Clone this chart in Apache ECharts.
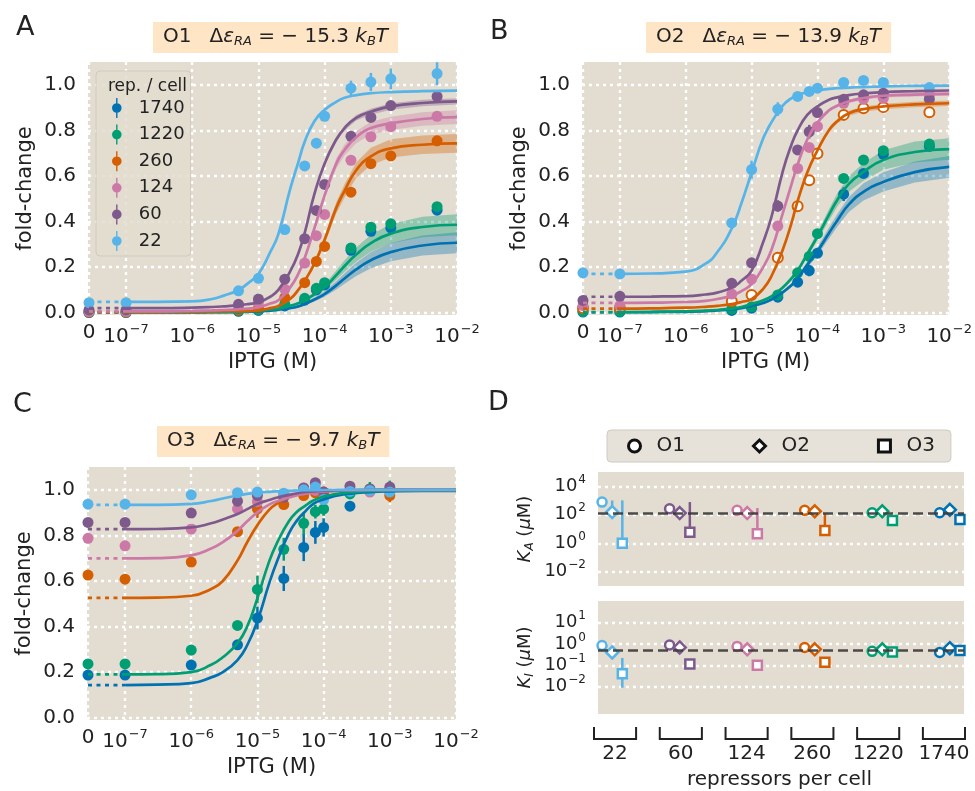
<!DOCTYPE html>
<html>
<head>
<meta charset="utf-8">
<script src="https://cdn.jsdelivr.net/npm/echarts@6/dist/echarts.min.js"></script>
<style>
  html, body { margin: 0; background: #fff; }
  #chart { width: 975px; height: 791px; }
</style>
</head>
<body>
<div id="chart"></div>
<script>
const FONT = 'DejaVu Sans';
const INK = '#222222';
const BG = '#E3DCD0';
const PEACH = '#FDE5C6';
const ZERO = -7.56; // where IPTG = 0 sits on the log axis

const reps = ['1740', '1220', '260', '124', '60', '22'];
const colors = { '1740': '#0072B2', '1220': '#009E73', '260': '#D55E00', '124': '#CC79A7', '60': '#7E598C', '22': '#56B4E9' };

// IPTG concentrations (uM)
const iptgAB = [0, 0.1, 5, 10, 25, 50, 75, 100, 250, 500, 1000, 5000];
const iptgC = [0, 0.1, 1, 5, 10, 25, 50, 75, 100, 250, 500, 1000];
const curveX = [0.1, 0.3, 1, 2, 3, 5, 7, 10, 15, 20, 30, 40, 50, 70, 100, 150, 200, 300, 500, 1000, 3000, 10000];

// panel A, O1
const foldA = {
  '1740': [0.001, 0.001, 0.006, 0.01, 0.03, 0.055, 0.1, 0.122, 0.274, 0.357, 0.372, 0.45],
  '1220': [0.002, 0.002, 0.008, 0.012, 0.038, 0.063, 0.107, 0.132, 0.284, 0.375, 0.39, 0.465],
  '260': [0.003, 0.003, 0.012, 0.02, 0.066, 0.132, 0.225, 0.291, 0.529, 0.654, 0.688, 0.754],
  '124': [0.005, 0.005, 0.026, 0.045, 0.103, 0.218, 0.338, 0.431, 0.669, 0.772, 0.816, 0.862],
  '60': [0.012, 0.012, 0.037, 0.06, 0.147, 0.325, 0.449, 0.563, 0.774, 0.857, 0.909, 0.949],
  '22': [0.044, 0.044, 0.096, 0.151, 0.365, 0.644, 0.744, 0.862, 0.985, 1.012, 1.026, 1.049]
};
const errA = {
  '1740': [0.002, 0.002, 0.004, 0.005, 0.008, 0.01, 0.012, 0.012, 0.015, 0.018, 0.02, 0.02],
  '1220': [0.002, 0.002, 0.004, 0.005, 0.008, 0.01, 0.012, 0.012, 0.015, 0.018, 0.02, 0.02],
  '260': [0.003, 0.003, 0.005, 0.006, 0.01, 0.012, 0.014, 0.014, 0.016, 0.018, 0.02, 0.02],
  '124': [0.003, 0.003, 0.005, 0.006, 0.01, 0.012, 0.014, 0.014, 0.016, 0.018, 0.02, 0.02],
  '60': [0.004, 0.004, 0.006, 0.008, 0.01, 0.012, 0.014, 0.014, 0.016, 0.018, 0.02, 0.022],
  '22': [0.006, 0.006, 0.01, 0.012, 0.014, 0.015, 0.015, 0.015, 0.033, 0.04, 0.045, 0.05]
};
const curveA = {
  '1740': [0.001, 0.001, 0.001, 0.002, 0.002, 0.003, 0.004, 0.006, 0.009, 0.013, 0.02, 0.028, 0.038, 0.058, 0.082, 0.12, 0.15, 0.19, 0.23, 0.266, 0.295, 0.307],
  '1220': [0.002, 0.002, 0.002, 0.003, 0.003, 0.004, 0.005, 0.008, 0.013, 0.018, 0.03, 0.042, 0.055, 0.08, 0.112, 0.165, 0.205, 0.255, 0.305, 0.347, 0.376, 0.386],
  '260': [0.003, 0.003, 0.004, 0.005, 0.006, 0.007, 0.008, 0.01, 0.02, 0.03, 0.06, 0.1, 0.14, 0.215, 0.32, 0.46, 0.535, 0.625, 0.686, 0.721, 0.737, 0.743],
  '124': [0.006, 0.006, 0.008, 0.01, 0.012, 0.015, 0.018, 0.023, 0.04, 0.055, 0.11, 0.17, 0.24, 0.37, 0.515, 0.655, 0.714, 0.77, 0.81, 0.831, 0.85, 0.858],
  '60': [0.02, 0.02, 0.022, 0.025, 0.028, 0.033, 0.038, 0.045, 0.07, 0.1, 0.18, 0.26, 0.35, 0.52, 0.655, 0.76, 0.81, 0.855, 0.882, 0.905, 0.92, 0.927],
  '22': [0.048, 0.048, 0.05, 0.06, 0.075, 0.1, 0.13, 0.17, 0.265, 0.345, 0.54, 0.66, 0.75, 0.84, 0.89, 0.925, 0.943, 0.955, 0.963, 0.968, 0.972, 0.974]
};
const bandA = {
  '1740': [0, 0, 0, 0, 0, 0, 0.001, 0.001, 0.001, 0.002, 0.003, 0.004, 0.006, 0.009, 0.012, 0.018, 0.023, 0.029, 0.035, 0.04, 0.044, 0.046],
  '1220': [0, 0, 0, 0, 0, 0, 0.001, 0.001, 0.002, 0.002, 0.004, 0.005, 0.007, 0.01, 0.013, 0.02, 0.025, 0.031, 0.037, 0.042, 0.045, 0.046],
  '260': [0, 0, 0, 0, 0, 0, 0, 0.001, 0.001, 0.002, 0.003, 0.005, 0.008, 0.012, 0.018, 0.025, 0.029, 0.034, 0.038, 0.04, 0.041, 0.041],
  '124': [0, 0, 0, 0, 0, 0, 0, 0.001, 0.001, 0.002, 0.004, 0.006, 0.008, 0.012, 0.017, 0.022, 0.024, 0.026, 0.028, 0.029, 0.03, 0.03],
  '60': [0, 0, 0, 0, 0, 0, 0, 0, 0.001, 0.001, 0.002, 0.003, 0.004, 0.006, 0.008, 0.01, 0.011, 0.012, 0.013, 0.014, 0.014, 0.014]
};

// panel B, O2
const foldB = {
  '1740': [0.003, 0.003, 0.01, 0.02, 0.068, 0.134, 0.185, 0.261, 0.52, 0.611, 0.695, 0.73],
  '1220': [0.005, 0.005, 0.016, 0.026, 0.078, 0.175, 0.247, 0.347, 0.589, 0.67, 0.711, 0.74],
  '260': [0.02, 0.02, 0.05, 0.078, 0.241, 0.467, 0.581, 0.699, 0.868, 0.897, 0.902, 0.88],
  '124': [0.031, 0.031, 0.082, 0.148, 0.38, 0.633, 0.725, 0.817, 0.919, 0.937, 0.941, 0.955],
  '60': [0.054, 0.072, 0.129, 0.219, 0.468, 0.714, 0.794, 0.878, 0.937, 0.956, 0.963, 0.937],
  '22': [0.175, 0.17, 0.394, 0.628, 0.893, 0.949, 0.971, 0.985, 1.01, 1.019, 1.01, 0.988]
};
const errB = {
  '1740': [0.002, 0.002, 0.004, 0.006, 0.01, 0.015, 0.025, 0.015, 0.03, 0.015, 0.015, 0.02],
  '1220': [0.002, 0.002, 0.004, 0.006, 0.01, 0.015, 0.015, 0.015, 0.015, 0.015, 0.015, 0.02],
  '260': [0.003, 0.003, 0.006, 0.008, 0.01, 0.012, 0.012, 0.012, 0.012, 0.012, 0.012, 0.022],
  '124': [0.004, 0.004, 0.008, 0.01, 0.012, 0.015, 0.015, 0.015, 0.015, 0.012, 0.012, 0.015],
  '60': [0.005, 0.005, 0.01, 0.012, 0.025, 0.02, 0.03, 0.015, 0.015, 0.012, 0.012, 0.015],
  '22': [0.01, 0.01, 0.015, 0.04, 0.03, 0.015, 0.012, 0.012, 0.012, 0.012, 0.012, 0.012]
};
const curveB = {
  '1740': [0.002, 0.003, 0.004, 0.007, 0.01, 0.015, 0.02, 0.03, 0.043, 0.058, 0.09, 0.12, 0.15, 0.21, 0.27, 0.35, 0.405, 0.475, 0.53, 0.574, 0.617, 0.64],
  '1220': [0.003, 0.004, 0.006, 0.009, 0.012, 0.018, 0.025, 0.038, 0.055, 0.072, 0.112, 0.15, 0.185, 0.257, 0.335, 0.43, 0.495, 0.565, 0.618, 0.67, 0.705, 0.718],
  '260': [0.018, 0.019, 0.022, 0.026, 0.03, 0.038, 0.047, 0.06, 0.105, 0.16, 0.28, 0.39, 0.49, 0.615, 0.712, 0.802, 0.84, 0.875, 0.893, 0.905, 0.914, 0.919],
  '124': [0.043, 0.044, 0.047, 0.052, 0.06, 0.075, 0.095, 0.126, 0.2, 0.275, 0.44, 0.56, 0.65, 0.76, 0.835, 0.888, 0.908, 0.928, 0.942, 0.952, 0.957, 0.96],
  '60': [0.07, 0.071, 0.073, 0.08, 0.088, 0.11, 0.14, 0.185, 0.31, 0.42, 0.625, 0.735, 0.8, 0.868, 0.905, 0.934, 0.945, 0.955, 0.962, 0.968, 0.972, 0.975],
  '22': [0.17, 0.172, 0.18, 0.215, 0.265, 0.37, 0.48, 0.615, 0.765, 0.835, 0.91, 0.94, 0.955, 0.968, 0.975, 0.982, 0.985, 0.988, 0.99, 0.993, 0.995, 0.996]
};
const bandB = {
  '1740': [0, 0, 0, 0, 0, 0.001, 0.001, 0.002, 0.003, 0.004, 0.006, 0.008, 0.01, 0.014, 0.018, 0.024, 0.028, 0.033, 0.038, 0.042, 0.046, 0.048],
  '1220': [0, 0, 0, 0, 0, 0.001, 0.001, 0.002, 0.003, 0.004, 0.006, 0.008, 0.01, 0.014, 0.018, 0.025, 0.029, 0.034, 0.039, 0.043, 0.046, 0.047],
  '260': [0, 0, 0, 0, 0, 0, 0.001, 0.001, 0.001, 0.002, 0.003, 0.004, 0.005, 0.007, 0.008, 0.009, 0.01, 0.011, 0.011, 0.012, 0.012, 0.012],
  '124': [0, 0, 0, 0, 0, 0, 0, 0.001, 0.001, 0.001, 0.002, 0.003, 0.004, 0.005, 0.006, 0.007, 0.007, 0.008, 0.008, 0.008, 0.008, 0.008]
};

// panel C, O3
const foldC = {
  '1740': [0.187, 0.187, 0.231, 0.32, 0.437, 0.611, 0.747, 0.813, 0.835, 0.928, 0.997, 0.997],
  '1220': [0.236, 0.236, 0.297, 0.405, 0.563, 0.739, 0.853, 0.904, 0.916, 0.982, 1.004, 1.0],
  '260': [0.626, 0.608, 0.683, 0.816, 0.916, 0.935, 0.975, 0.987, 0.99, 0.997, 1.0, 0.975],
  '124': [0.787, 0.754, 0.828, 0.916, 0.948, 0.982, 1.009, 0.997, 0.99, 1.0, 0.99, 0.997],
  '60': [0.857, 0.857, 0.898, 0.95, 0.975, 0.967, 1.007, 1.031, 0.99, 1.016, 1.004, 1.012],
  '22': [0.937, 0.937, 0.978, 0.987, 0.99, 0.985, 1.0, 1.012, 0.957, 0.993, 0.997, 0.99]
};
const errC = {
  '1740': [0.01, 0.01, 0.01, 0.015, 0.05, 0.055, 0.06, 0.05, 0.04, 0.02, 0.02, 0.02],
  '1220': [0.01, 0.01, 0.01, 0.015, 0.06, 0.05, 0.05, 0.03, 0.03, 0.02, 0.03, 0.04],
  '260': [0.01, 0.01, 0.01, 0.015, 0.04, 0.02, 0.02, 0.02, 0.02, 0.02, 0.02, 0.03],
  '124': [0.01, 0.01, 0.01, 0.015, 0.015, 0.02, 0.02, 0.02, 0.02, 0.02, 0.02, 0.02],
  '60': [0.01, 0.01, 0.01, 0.015, 0.015, 0.02, 0.02, 0.02, 0.02, 0.02, 0.02, 0.02],
  '22': [0.01, 0.01, 0.01, 0.01, 0.01, 0.01, 0.015, 0.015, 0.015, 0.015, 0.015, 0.015]
};
const curveC = {
  '1740': [0.143, 0.145, 0.152, 0.177, 0.2, 0.253, 0.318, 0.425, 0.588, 0.69, 0.81, 0.867, 0.898, 0.938, 0.958, 0.973, 0.98, 0.985, 0.99, 0.993, 0.995, 0.995],
  '1220': [0.19, 0.191, 0.2, 0.232, 0.265, 0.327, 0.4, 0.525, 0.685, 0.77, 0.863, 0.905, 0.925, 0.953, 0.97, 0.981, 0.986, 0.99, 0.994, 0.996, 0.997, 0.997],
  '260': [0.526, 0.527, 0.535, 0.565, 0.6, 0.69, 0.77, 0.845, 0.912, 0.94, 0.97, 0.979, 0.985, 0.99, 0.993, 0.995, 0.997, 0.998, 0.999, 1, 1, 1],
  '124': [0.699, 0.7, 0.712, 0.742, 0.77, 0.82, 0.862, 0.901, 0.935, 0.95, 0.966, 0.976, 0.982, 0.988, 0.993, 0.995, 0.997, 0.998, 0.999, 1, 1, 1],
  '60': [0.827, 0.828, 0.835, 0.853, 0.87, 0.894, 0.915, 0.938, 0.955, 0.966, 0.978, 0.985, 0.99, 0.993, 0.996, 0.997, 0.998, 0.999, 0.999, 1, 1, 1],
  '22': [0.934, 0.934, 0.938, 0.951, 0.962, 0.975, 0.982, 0.987, 0.991, 0.993, 0.995, 0.997, 0.998, 0.998, 0.999, 0.999, 1, 1, 1, 1, 1, 1]
};

// panel D (uM)
const groups = ['22', '60', '124', '260', '1220', '1740'];
const operators = ['O1', 'O2', 'O3'];
const kaFit = 139;
const kiFit = 0.53;
const kaVal = {
  O1: [776, 263, 204, 204, 138, 138],
  O2: [155, 132, 132, 174, 174, 224],
  O3: [1.0, 6.0, 4.6, 7.8, 40, 47]
};
const kaErr = {
  O1: [[500, 1100], [200, 330], [160, 250], [170, 240], [120, 160], [120, 160]],
  O2: [[120, 1000], [110, 160], [110, 160], [150, 200], [150, 200], [190, 260]],
  O3: [[0.4, 1020], [4, 776], [3.5, 295], [6, 117], [32, 50], [38, 58]]
};
const kiVal = {
  O1: [0.83, 0.89, 0.76, 0.68, 0.45, 0.40],
  O2: [0.40, 0.68, 0.56, 0.56, 0.56, 0.63],
  O3: [0.040, 0.115, 0.10, 0.138, 0.42, 0.49]
};
const kiErr = {
  O1: [[0.75, 0.92], [0.8, 0.98], [0.7, 0.83], [0.62, 0.75], [0.41, 0.5], [0.36, 0.44]],
  O2: [[0.36, 0.45], [0.62, 0.75], [0.51, 0.62], [0.51, 0.62], [0.51, 0.62], [0.57, 0.7]],
  O3: [[0.009, 0.22], [0.09, 0.14], [0.08, 0.12], [0.11, 0.17], [0.38, 0.47], [0.44, 0.54]]
};
const opOffset = { O1: -0.15, O2: 0, O3: 0.15 };
const opSymbol = { O1: 'circle', O2: 'diamond', O3: 'rect' };
const opSize = { O1: 9, O2: 12, O3: 9 };

const xTicks = [ZERO, -7, -6, -5, -4, -3, -2];
const foldTicks = [0, 0.2, 0.4, 0.6, 0.8, 1.0];

function toAxis(uM) { return uM > 0 ? Math.log10(uM) - 6 : ZERO; }

function supRich(b, s) {
  return {
    b: { fontSize: b, color: INK, fontFamily: FONT },
    s: { fontSize: s, color: INK, fontFamily: FONT, padding: [0, 0, Math.round(b * 0.7), 1] }
  };
}
function powLabel(v) {
  const n = Math.round(v);
  return '{b|10}{s|' + (n < 0 ? '\u2212' + (-n) : n) + '}';
}
function xLabel(v) {
  if (v < -7.3) return '{b|0}';
  return powLabel(v);
}

const GRIDLINE = { color: '#ffffff', width: 2.4, type: [3, 4] };

const grids = [
  { left: 88, top: 62, width: 369, height: 253 },
  { left: 582, top: 62, width: 369, height: 253 },
  { left: 87, top: 467, width: 369, height: 253 },
  { left: 598, top: 472, width: 366, height: 114 },
  { left: 598, top: 601, width: 366, height: 113 },
  { left: 594, top: 727, width: 371, height: 14, show: false }
].map(g => Object.assign({ show: true, backgroundColor: BG, borderWidth: 0 }, g));

function foldX(gi) {
  return {
    gridIndex: gi, type: 'value', min: -7.575, max: -2,
    axisLine: { show: false }, axisTick: { show: false, customValues: xTicks },
    axisLabel: { customValues: xTicks, formatter: xLabel, rich: supRich(20, 13), margin: 8 },
    splitLine: { show: true, lineStyle: GRIDLINE },
    name: 'IPTG (M)', nameLocation: 'middle', nameGap: 37,
    nameTextStyle: { fontSize: 21, color: INK, fontFamily: FONT }
  };
}
function foldY(gi) {
  return {
    gridIndex: gi, type: 'value', min: -0.01, max: 1.1,
    axisLine: { show: false }, axisTick: { show: false, customValues: foldTicks },
    axisLabel: { customValues: foldTicks, formatter: v => v.toFixed(1), fontSize: 20, color: INK, margin: 12 },
    splitLine: { show: true, lineStyle: GRIDLINE },
    name: 'fold-change', nameLocation: 'middle', nameGap: 52,
    nameTextStyle: { fontSize: 21, color: INK, fontFamily: FONT }
  };
}
function kY(gi, min, max, ticks, sub) {
  return {
    gridIndex: gi, type: 'value', min: min, max: max,
    axisLine: { show: false }, axisTick: { show: false, customValues: ticks },
    axisLabel: { customValues: ticks, formatter: powLabel, rich: supRich(18, 12), margin: 12 },
    splitLine: { show: true, lineStyle: GRIDLINE },
    name: '{i|K}{sub|' + sub + '}{t| (}{i|\u03bc}{t|M)}', nameLocation: 'middle', nameGap: 62,
    nameTextStyle: {
      rich: {
        i: { fontSize: 18, fontStyle: 'italic', color: INK, fontFamily: FONT },
        t: { fontSize: 18, color: INK, fontFamily: FONT },
        sub: { fontSize: 12, fontStyle: 'italic', color: INK, fontFamily: FONT, padding: [9, 0, 0, 0] }
      }
    }
  };
}

function errorBars(gi, rows, color) {
  return {
    type: 'custom', xAxisIndex: gi, yAxisIndex: gi, silent: true,
    data: rows,
    renderItem: (params, api) => {
      const a = api.coord([api.value(0), api.value(1)]);
      const b = api.coord([api.value(0), api.value(2)]);
      return { type: 'line', shape: { x1: a[0], y1: a[1], x2: b[0], y2: b[1] }, style: { stroke: color, lineWidth: 2.5 } };
    }
  };
}

function panelSeries(gi, iptg, fold, err, curve, band, hollow) {
  const out = [];
  // credible regions
  reps.forEach(r => {
    if (!band[r]) return;
    const c = curve[r], b = band[r];
    out.push({
      type: 'custom', xAxisIndex: gi, yAxisIndex: gi, silent: true, clip: true,
      data: [[toAxis(curveX[0]), c[0]]],
      renderItem: (params, api) => {
        const up = curveX.map((x, i) => api.coord([toAxis(x), c[i] + b[i]]));
        const lo = curveX.map((x, i) => api.coord([toAxis(x), c[i] - b[i]])).reverse();
        return { type: 'polygon', shape: { points: up.concat(lo) }, style: { fill: colors[r], opacity: 0.35 } };
      }
    });
  });
  // theory curves and their dotted extension to IPTG = 0
  reps.forEach(r => {
    const c = curve[r];
    out.push({
      type: 'line', xAxisIndex: gi, yAxisIndex: gi, silent: true, symbol: 'none',
      smooth: 0.5,
      lineStyle: { color: colors[r], width: 2.7 },
      data: curveX.map((x, i) => [toAxis(x), c[i]])
    });
    out.push({
      type: 'line', xAxisIndex: gi, yAxisIndex: gi, silent: true, symbol: 'none',
      lineStyle: { color: colors[r], width: 2.7, type: [4, 4.5], cap: 'butt' },
      data: [[toAxis(0), c[0]], [toAxis(curveX[0]), c[0]]]
    });
  });
  // measurements
  reps.forEach(r => {
    const open = hollow === r;
    out.push(errorBars(gi, iptg.map((x, i) => [toAxis(x), fold[r][i] - err[r][i], fold[r][i] + err[r][i]]), colors[r]));
    out.push({
      type: 'scatter', name: r, xAxisIndex: gi, yAxisIndex: gi, clip: false,
      symbol: 'circle', symbolSize: open ? 10 : 11,
      itemStyle: open ? { color: '#ffffff', borderColor: colors[r], borderWidth: 2, opacity: 1 } : { color: colors[r], opacity: 1 },
      data: iptg.map((x, i) => [toAxis(x), fold[r][i]])
    });
  });
  return out;
}

function errorBarsD(gi, rows) {
  return {
    type: 'custom', xAxisIndex: gi, yAxisIndex: gi, silent: true, clip: true,
    data: rows,
    renderItem: (params, api) => {
      const a = api.coord([api.value(0), api.value(1)]);
      const b = api.coord([api.value(0), api.value(2)]);
      return { type: 'line', shape: { x1: a[0], y1: a[1], x2: b[0], y2: b[1] }, style: { stroke: colors[groups[api.value(3)]], lineWidth: 2.5 } };
    }
  };
}
function kSeries(gi, vals, errs, fit) {
  const out = [{
    type: 'line', xAxisIndex: gi, yAxisIndex: gi, silent: true, data: [],
    markLine: {
      silent: true, symbol: 'none', label: { show: false },
      lineStyle: { color: '#3a3a3a', width: 2.5, type: [10, 5], opacity: 0.9 },
      data: [{ yAxis: Math.log10(fit) }]
    }
  }];
  operators.forEach(op => {
    out.push(errorBarsD(gi, groups.map((g, i) => [i + opOffset[op], Math.log10(errs[op][i][0]), Math.log10(errs[op][i][1]), i])));
  });
  operators.forEach(op => {
    out.push({
      type: 'scatter', name: op, xAxisIndex: gi, yAxisIndex: gi, clip: true,
      symbol: opSymbol[op], symbolSize: opSize[op],
      itemStyle: { color: '#ffffff', borderWidth: 2.5, opacity: 1 },
      data: groups.map((g, i) => ({ value: [i + opOffset[op], Math.log10(vals[op][i])], itemStyle: { borderColor: colors[g] } }))
    });
  });
  return out;
}

const LEGEND_ICON = 'path://M4.3,0H5.7V20H4.3Z M0.2,10A4.8,4.8,0,1,1,9.8,10A4.8,4.8,0,1,1,0.2,10Z';

function opTitle(op, e) {
  return '{t|' + op + '}{sp|}{t|\u0394}{i|\u03b5}{sub|RA}{t| = \u2212 ' + e + ' }{i|k}{sub|B}{i|T}';
}
const titleRich = {
  t: { fontSize: 20, fontWeight: 'normal', color: INK, fontFamily: FONT },
  i: { fontSize: 20, fontWeight: 'normal', fontStyle: 'italic', color: INK, fontFamily: FONT },
  sub: { fontSize: 13, fontWeight: 'normal', fontStyle: 'italic', color: INK, fontFamily: FONT, padding: [9, 0, 0, 0] },
  sp: { width: 18 }
};
const titleBox = { backgroundColor: PEACH, padding: [5, 10, 5, 10] };
const letter = { fontSize: 27, fontWeight: 'normal', color: INK, fontFamily: FONT };

const option = {
  animation: false,
  textStyle: { fontFamily: FONT, color: INK },
  title: [
    { text: 'A', left: 11, top: 9, textStyle: letter },
    { text: 'B', left: 485, top: 13, textStyle: letter },
    { text: 'C', left: 8, top: 386, textStyle: letter },
    { text: 'D', left: 483, top: 384, textStyle: letter },
    Object.assign({ text: opTitle('O1', '15.3'), left: 153, top: 21, textStyle: { fontWeight: 'normal', rich: titleRich } }, titleBox),
    Object.assign({ text: opTitle('O2', '13.9'), left: 646, top: 21, textStyle: { fontWeight: 'normal', rich: titleRich } }, titleBox),
    Object.assign({ text: opTitle('O3', '9.7'), left: 157, top: 425, textStyle: { fontWeight: 'normal', rich: titleRich } }, titleBox),
    { text: 'rep. / cell', left: 103, top: 73, textStyle: { fontSize: 17, fontWeight: 'normal', color: INK, fontFamily: FONT } }
  ],
  legend: [
    {
      orient: 'vertical', left: 96, top: 71, padding: [27, 6, 5, 16], itemGap: 6.6,
      itemWidth: 10, itemHeight: 20, selectedMode: false,
      backgroundColor: 'rgba(227,221,208,0.85)', borderColor: '#cfcac0', borderWidth: 1, borderRadius: 4,
      textStyle: { fontSize: 18, color: INK, fontFamily: FONT, padding: [0, 0, 0, 12] },
      data: reps.map(r => ({ name: r, icon: LEGEND_ICON, itemStyle: { color: colors[r], opacity: 1 } }))
    },
    {
      orient: 'horizontal', left: 607, top: 430, padding: [6, 16, 6, 20], itemGap: 67,
      itemWidth: 12, itemHeight: 12, selectedMode: false,
      backgroundColor: '#E6E2D9', borderColor: '#cfcac0', borderWidth: 1, borderRadius: 4,
      textStyle: { fontSize: 20, color: INK, fontFamily: FONT, padding: [0, 0, 0, 11] },
      data: operators.map(op => ({ name: op, icon: opSymbol[op], itemStyle: { color: '#ffffff', borderColor: '#111111', borderWidth: 3, opacity: 1 } }))
    }
  ],
  grid: grids,
  xAxis: [
    foldX(0), foldX(1), foldX(2),
    { gridIndex: 3, type: 'value', min: -0.21, max: 5.21, show: false, splitLine: { show: false } },
    { gridIndex: 4, type: 'value', min: -0.21, max: 5.21, show: false, splitLine: { show: false } },
    {
      gridIndex: 5, type: 'value', min: -0.32, max: 5.32,
      axisLine: { show: false }, axisTick: { show: false, customValues: [0, 1, 2, 3, 4, 5] },
      axisLabel: { customValues: [0, 1, 2, 3, 4, 5], formatter: v => groups[Math.round(v)], fontSize: 20, color: INK, margin: 5 },
      splitLine: { show: false },
      name: 'repressors per cell', nameLocation: 'middle', nameGap: 31,
      nameTextStyle: { fontSize: 20, color: INK, fontFamily: FONT }
    }
  ],
  yAxis: [
    foldY(0), foldY(1), foldY(2),
    kY(3, -3, 5, [-2, 0, 2, 4], 'A'),
    kY(4, -3.27, 2, [-2, -1, 0, 1], 'I'),
    { gridIndex: 5, type: 'value', min: 0, max: 1, show: false, splitLine: { show: false } }
  ],
  series: [].concat(
    panelSeries(0, iptgAB, foldA, errA, curveA, bandA, null),
    panelSeries(1, iptgAB, foldB, errB, curveB, bandB, '260'),
    panelSeries(2, iptgC, foldC, errC, curveC, {}, null),
    kSeries(3, kaVal, kaErr, kaFit),
    kSeries(4, kiVal, kiErr, kiFit),
    [{
      type: 'custom', xAxisIndex: 5, yAxisIndex: 5, silent: true,
      data: groups.map((g, i) => [i, 0]),
      renderItem: (params, api) => {
        const i = api.value(0);
        const pts = [[i - 0.32, 1], [i - 0.32, 0], [i + 0.32, 0], [i + 0.32, 1]].map(q => api.coord(q));
        return { type: 'polyline', shape: { points: pts }, style: { stroke: INK, lineWidth: 2, fill: null } };
      }
    }]
  )
};

const chart = echarts.init(document.getElementById('chart'));
chart.setOption(option);
</script>
</body>
</html>
